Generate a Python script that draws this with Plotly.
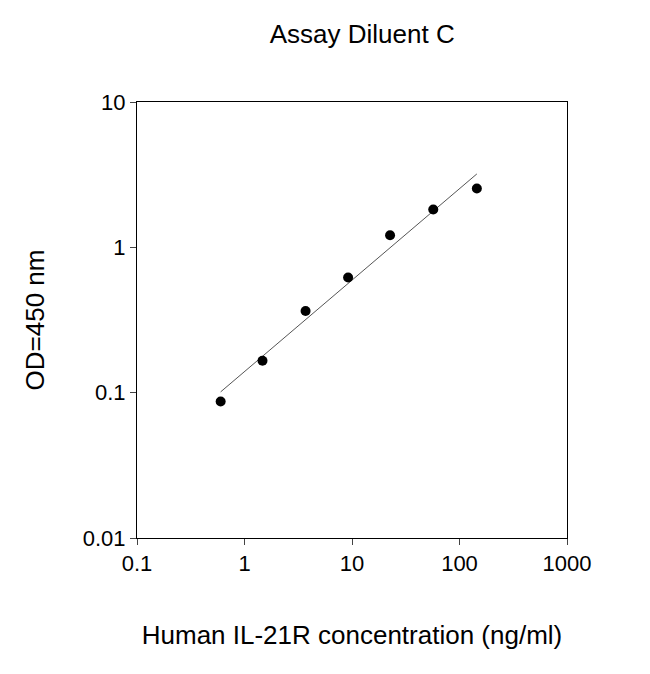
import plotly.graph_objects as go
import numpy as np

conc = [0.6, 1.47, 3.7, 9.2, 22.6, 57, 145]
od = [0.087, 0.166, 0.365, 0.62, 1.21, 1.82, 2.54]

# log-log linear fit line
k, b = np.polyfit(np.log10(conc), np.log10(od), 1)
fx = np.array([conc[0], conc[-1]])
fy = 10 ** (k * np.log10(fx) + b)

fig = go.Figure()
fig.add_trace(go.Scatter(x=fx, y=fy, mode="lines", line=dict(color="#555", width=1)))
fig.add_trace(go.Scatter(x=conc, y=od, mode="markers", marker=dict(color="black", size=10)))

axis = dict(type="log", showgrid=False, zeroline=False, showline=True, mirror=True,
            linecolor="black", linewidth=1, ticks="outside", ticklen=6,
            tickfont=dict(size=22, color="black"))
fig.update_xaxes(**axis, range=[-1, 3], tickvals=[0.1, 1, 10, 100, 1000],
                 ticktext=["0.1", "1", "10", "100", "1000"],
                 title=dict(text="Human IL-21R concentration (ng/ml)", font=dict(size=26, color="black"), standoff=50))
fig.update_yaxes(**axis, range=[-2, 1], tickvals=[0.01, 0.1, 1, 10],
                 ticktext=["0.01", "0.1", "1", "10"],
                 title=dict(text="OD=450 nm", font=dict(size=26, color="black"), standoff=30))
fig.update_layout(width=650, height=674, showlegend=False,
                  plot_bgcolor="white", paper_bgcolor="white",
                  font=dict(family="Liberation Sans, Arial"),
                  margin=dict(l=129, r=91, t=94, b=144),
                  title=dict(text="Assay Diluent C", x=0.545, y=0.975, font=dict(size=26, color="black")))
fig.write_html("out.html")
